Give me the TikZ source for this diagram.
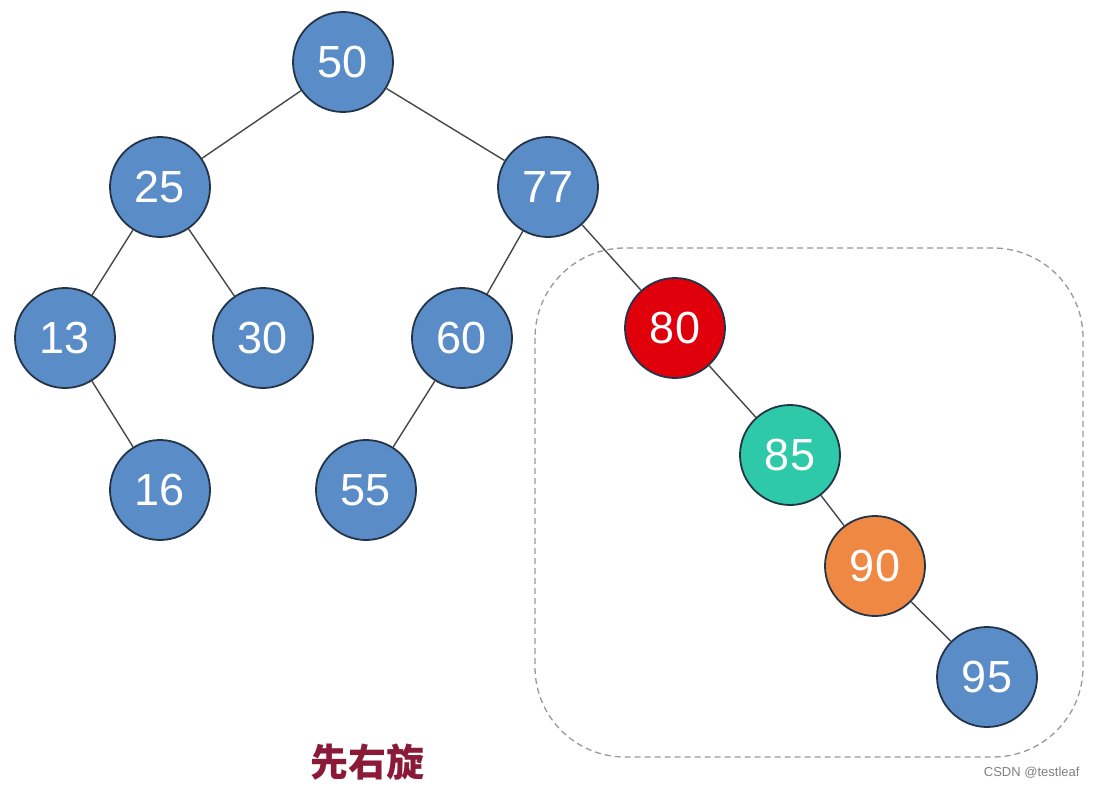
\documentclass[tikz,border=0pt]{standalone}
\usepackage{fontspec}
\setmainfont{Liberation Sans}
\newfontfamily\cjk{Noto Sans CJK SC}
\definecolor{nblue}{HTML}{5A8DC8}
\definecolor{nred}{HTML}{E0000C}
\definecolor{nteal}{HTML}{2EC9A9}
\definecolor{norange}{HTML}{EE8843}
\definecolor{nborder}{HTML}{233448}
\definecolor{capred}{HTML}{8A1A38}
\begin{document}
\begin{tikzpicture}[x=1pt,y=-1pt,
  tnode/.style={circle,draw=nborder,line width=1.8pt,minimum size=100pt,inner sep=0pt,
    text=white,font=\fontsize{45}{45}\selectfont,fill=nblue},
  edge/.style={draw=black!72,line width=1.4pt}]
\useasboundingbox (0,0) rectangle (1097,789);
\fill[white] (0,0) rectangle (1097,789);
\draw[gray!80,line width=1.3pt,dash pattern=on 6pt off 4pt,rounded corners=90pt]
  (535,248) rectangle (1083,757);
\node[tnode] (n50) at (343,62) {50};
\node[tnode] (n25) at (160,187) {25};
\node[tnode] (n77) at (548,187) {77};
\node[tnode] (n13) at (65,338) {13};
\node[tnode] (n30) at (263,338) {30};
\node[tnode] (n60) at (462,338) {60};
\node[tnode,fill=nred] (n80) at (675,328) {80};
\node[tnode] (n16) at (160,490) {16};
\node[tnode] (n55) at (366,490) {55};
\node[tnode,fill=nteal] (n85) at (790,455) {85};
\node[tnode,fill=norange] (n90) at (875,566) {90};
\node[tnode] (n95) at (987,677) {95};
\draw[edge] (n50) -- (n25);
\draw[edge] (n50) -- (n77);
\draw[edge] (n25) -- (n13);
\draw[edge] (n25) -- (n30);
\draw[edge] (n13) -- (n16);
\draw[edge] (n77) -- (n60);
\draw[edge] (n77) -- (n80);
\draw[edge] (n60) -- (n55);
\draw[edge] (n80) -- (n85);
\draw[edge] (n85) -- (n90);
\draw[edge] (n90) -- (n95);
\node[text=capred,font=\cjk\bfseries\fontsize{38}{38}\selectfont] (cap) at (367,762) {先右旋};
\node[text=gray,font=\fontsize{13}{13}\selectfont,anchor=east] (wm) at (1083,773) {CSDN @testleaf};
\end{tikzpicture}
\end{document}
